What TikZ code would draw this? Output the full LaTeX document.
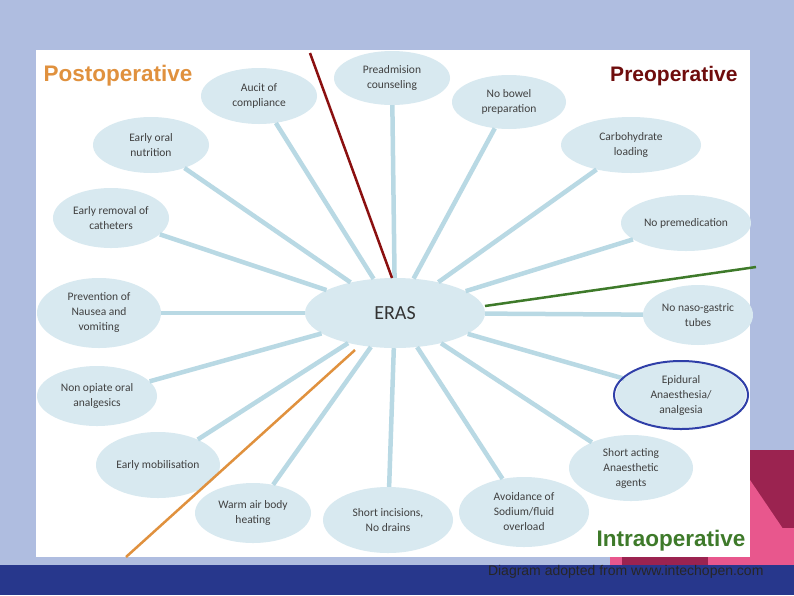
\documentclass[tikz,border=0pt]{standalone}
\usepackage{fontspec}
\setmainfont{Carlito}
\newfontfamily\arialf{Liberation Sans}
\usetikzlibrary{shapes.geometric}
\definecolor{bg}{HTML}{AFBDE0}
\definecolor{bub}{HTML}{D8E9F0}
\definecolor{spk}{HTML}{B9D9E4}
\definecolor{navy}{HTML}{27378C}
\definecolor{mag}{HTML}{9B2350}
\definecolor{pnk}{HTML}{E8578D}
\definecolor{orng}{HTML}{E0913E}
\definecolor{dred}{HTML}{8B1010}
\definecolor{grn}{HTML}{3E7A2A}
\definecolor{eblue}{HTML}{2F3FA8}
\tikzset{bubble/.style={ellipse,fill=bub,draw=none,align=center,font=\fontsize{11.5}{15}\selectfont,text=black!75,inner sep=0pt},
spoke/.style={spk,line width=4.5pt},
phase/.style={font=\arialf\bfseries\fontsize{22.5}{24}\selectfont}}
\begin{document}
\begin{tikzpicture}[x=1pt,y=-1pt]
\useasboundingbox (0,0) rectangle (794,595);
\fill[bg] (0,0) rectangle (794,595);
\fill[mag] (750,450) rectangle (794,565);
\fill[pnk] (610,528) rectangle (794,565);
\fill[pnk] (750,480) -- (794,545) -- (794,565) -- (750,565) -- cycle;
\fill[mag] (622,552) rectangle (708,565);
\fill[white] (36,50) rectangle (750,557);
\fill[navy] (0,565) rectangle (794,595);
\node[ellipse,fill=bub,minimum width=180,minimum height=70] (eras) at (395,313) {\fontsize{20}{22}\selectfont\textcolor{black!80}{ERAS}};
\def\B#1#2#3#4#5{\node[bubble,minimum width=#3,minimum height=#4] (#1) at #2 {#5};}
\B{pa}{(392,78)}{116}{54}{Preadmision\\counseling}
\B{ac}{(259,96)}{116}{56}{Aucit of\\compliance}
\B{nb}{(509,102)}{114}{54}{No bowel\\preparation}
\B{eo}{(151,145)}{116}{56}{Early oral\\nutrition}
\B{cl}{(631,145)}{140}{56}{Carbohydrate\\loading}
\B{er}{(111,218)}{116}{60}{Early removal of\\catheters}
\B{np}{(686,223)}{130}{56}{No premedication}
\B{pn}{(99,313)}{124}{70}{Prevention of\\Nausea and\\vomiting}
\B{ng}{(698,315)}{110}{60}{No naso-gastric\\tubes}
\B{no}{(97,396)}{120}{60}{Non opiate oral\\analgesics}
\B{ep}{(681,395)}{130}{66}{Epidural\\Anaesthesia/\\analgesia}
\B{em}{(158,465)}{124}{66}{Early mobilisation}
\B{sa}{(631,468)}{124}{66}{Short acting\\Anaesthetic\\agents}
\B{wa}{(253,513)}{116}{60}{Warm air body\\heating}
\B{si}{(388,520)}{130}{66}{Short incisions,\\No drains}
\B{av}{(524,512)}{130}{70}{Avoidance of\\Sodium/fluid\\overload}
\foreach \n in {pa,ac,nb,eo,cl,er,np,pn,ng,no,ep,em,sa,wa,si,av}{\draw[spoke] (eras) -- (\n);}
\draw[eblue,line width=2pt] (ep.center) ellipse [x radius=67, y radius=34];
\coordinate (r1) at (310,53); \coordinate (r2) at (392,278);
\draw[dred,line width=2.5pt] (r1) -- (r2);
\coordinate (g1) at (485,306); \coordinate (g2) at (756,267);
\draw[grn,line width=2.5pt] (g1) -- (g2);
\coordinate (o1) at (355,350); \coordinate (o2) at (126,557);
\draw[orng,line width=2.5pt] (o1) -- (o2);
\node[phase,text=orng,anchor=west] (post) at (40,76) {Postoperative};
\node[phase,text=dred!80!black,anchor=east,font=\arialf\bfseries\fontsize{21}{23}\selectfont] (pre) at (741,76) {Preoperative};
\node[phase,text=grn,anchor=east] (intra) at (749,541) {Intraoperative};
\node[font=\arialf\fontsize{14}{16}\selectfont,text=black!85,anchor=east] (cr) at (767,572) {Diagram adopted from www.intechopen.com};
\end{tikzpicture}
\end{document}
